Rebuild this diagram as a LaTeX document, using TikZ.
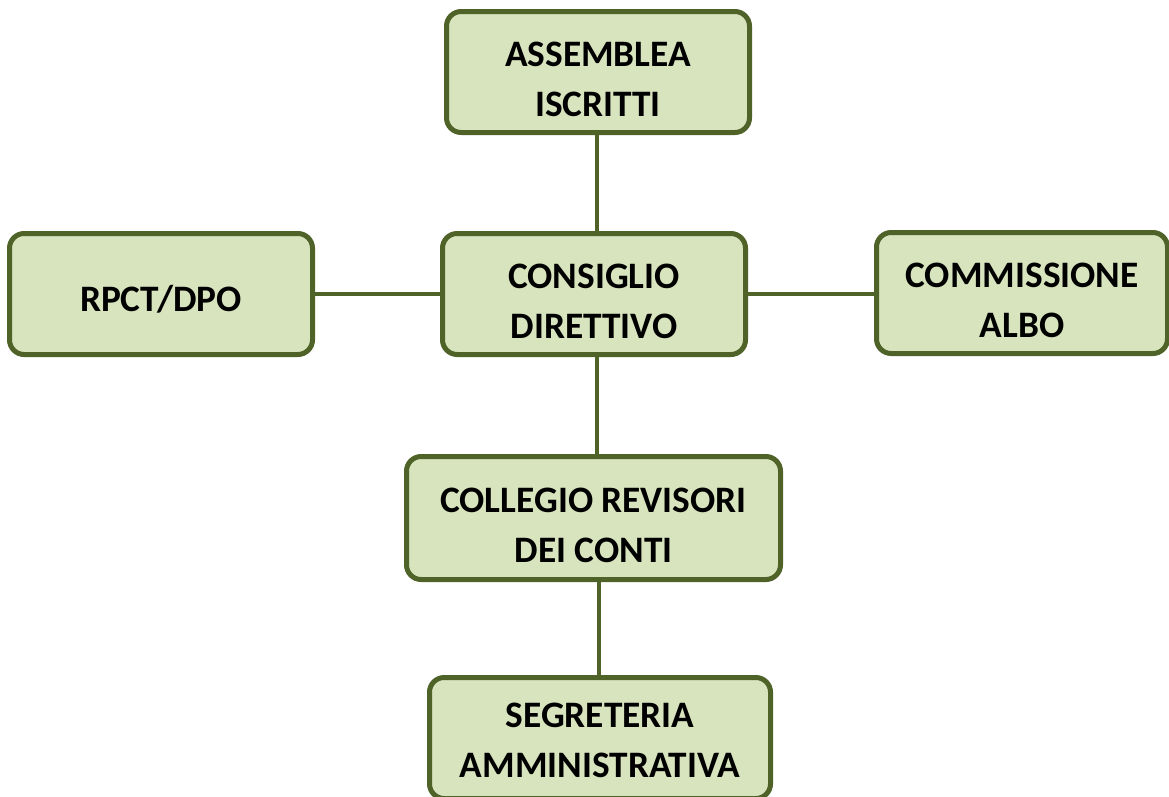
\documentclass[tikz,border=0pt]{standalone}
\usepackage{fontspec}
\setmainfont{Carlito}
\usepackage{tikz}

\definecolor{boxfill}{HTML}{D7E4BD}
\definecolor{boxline}{HTML}{4F6228}

% text of a box, set a little below the middle
\newcommand{\orgtext}[2][-6.75pt]{\raisebox{#1}[\height][\depth]{\begin{tabular}{@{}c@{}}#2\end{tabular}}}

\tikzset{
    orgbox/.style={draw=boxline, fill=boxfill, line width=3.75pt, rounded corners=11pt,
        inner sep=0pt, minimum height=90.75pt,
        font=\bfseries\fontsize{28}{37.5}\selectfont},
    link/.style={draw=boxline, line width=3pt}
}

\begin{document}
\begin{tikzpicture}[x=0.75pt, y=-0.75pt]
    % Fix the page to the size of the picture
    \useasboundingbox (0,0) rectangle (1169,796);

    % Draw the boxes
    \node[orgbox, minimum width=227.25pt] (assemblea) at (598,72) {\orgtext{ASSEMBLEA\\ISCRITTI}};
    \node[orgbox, minimum width=227.25pt] (consiglio) at (594,294) {\orgtext{CONSIGLIO\\DIRETTIVO}};
    \node[orgbox, minimum width=227.25pt] (rpct) at (161,294) {\orgtext[-5.25pt]{RPCT/DPO}};
    \node[orgbox, minimum width=218.25pt] (commissione) at (1022,293) {\orgtext{COMMISSIONE\\ALBO}};
    \node[orgbox, minimum width=280.5pt, minimum height=92.25pt] (collegio) at (593.5,518) {\orgtext{COLLEGIO REVISORI\\DEI CONTI}};
    \node[orgbox, minimum width=255.75pt] (segreteria) at (600,738) {\orgtext[-3pt]{SEGRETERIA\\AMMINISTRATIVA}};

    % Draw the links between the boxes
    \draw[link] (assemblea.south -| 597,0) -- (consiglio.north -| 597,0);
    \draw[link] (consiglio.south -| 597,0) -- (collegio.north -| 597,0);
    \draw[link] (collegio.south -| 599,0) -- (segreteria.north -| 599,0);
    \draw[link] (rpct.east) -- (rpct.east -| consiglio.west);
    \draw[link] (consiglio.east) -- (consiglio.east -| commissione.west);

\end{tikzpicture}
\end{document}
